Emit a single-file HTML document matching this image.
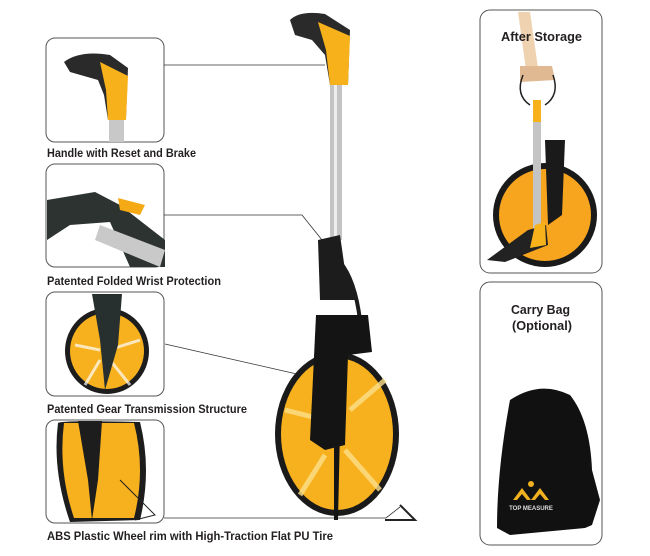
<!DOCTYPE html>
<html><head><meta charset="utf-8"><style>
html,body{margin:0;padding:0;background:#fff;width:650px;height:556px;overflow:hidden}
svg{display:block}
text{font-family:"Liberation Sans Narrow","Liberation Sans",sans-serif;font-weight:bold;fill:#231f20}
</style></head><body>
<svg width="650" height="556" viewBox="0 0 650 556">
<g fill="#fff" stroke="#555" stroke-width="1">
<rect x="46" y="38" width="118" height="104" rx="9"/>
<rect x="46" y="164" width="118" height="103" rx="9"/>
<rect x="46" y="292" width="118" height="104" rx="9"/>
<rect x="46" y="420" width="118" height="103" rx="9"/>
<rect x="480" y="10" width="122" height="263" rx="10"/>
<rect x="480" y="282" width="122" height="263" rx="10"/>
</g>
<g stroke="#333" stroke-width="0.8" fill="none">
<path d="M164 65 H325"/>
<path d="M164 215 H302 L322 240"/>
<path d="M165 344 L310 377"/>
<path d="M164 518 H386 L400 507"/>
</g>
<!-- box1 handle -->
<rect x="109" y="115" width="15" height="27" fill="#c8c8c8"/>
<path d="M64 62 Q80 50 110 55 L128 68 L126 118 L108 120 L104 95 L98 80 L70 72 Z" fill="#2a2a2a"/>
<path d="M100 62 L128 76 L126 120 L108 120 L106 90 Z" fill="#f7b21b"/>
<!-- box2 -->
<path d="M47 200 L95 192 L120 205 L165 240 L165 267 L130 267 L110 222 L70 225 L47 240 Z" fill="#2c3331"/>
<path d="M100 225 L165 250 L160 267 L95 240 Z" fill="#c9c9c9"/>
<path d="M118 198 L145 205 L140 215 L120 210 Z" fill="#f5a915"/>
<!-- box3 wheel -->
<ellipse cx="107" cy="351" rx="42" ry="43" fill="#1d1d1d"/>
<ellipse cx="107" cy="351" rx="37" ry="38" fill="#f7b11e"/>
<g stroke="#fff" stroke-width="3" opacity="0.7"><path d="M75 345 L100 350 M115 348 L140 340 M110 360 L130 385 M100 360 L85 385"/></g>
<path d="M92 294 L122 294 L118 345 L105 390 L100 340 Z" fill="#28302f"/>
<!-- box4 wheel -->
<path d="M58 423 Q60 420 140 422 Q152 470 140 520 L70 522 Q52 470 58 423 Z" fill="#1d1d1d"/>
<path d="M64 423 L134 423 Q146 470 134 518 L74 518 Q58 470 64 423Z" fill="#f7b11e"/>
<path d="M78 421 L102 421 L98 480 L92 520 L88 480 Z" fill="#1d1d1d"/>
<path d="M120 480 L155 515 L135 520" stroke="#222" fill="none"/>
<!-- main wheel -->
<path d="M400 505 L415 520 L385 520" stroke="#222" stroke-width="2" fill="none"/>
<ellipse cx="337" cy="434" rx="62" ry="82" fill="#1a1a1a"/>
<ellipse cx="337" cy="434" rx="56" ry="76" fill="#f7b11e"/>
<g stroke="#fde08a" stroke-width="5" opacity="0.8"><path d="M285 410 L325 420 M350 410 L385 380 M345 450 L380 490 M325 455 L300 495"/></g>
<rect x="330" y="85" width="12" height="155" fill="#c4c4c4"/>
<rect x="334" y="85" width="3" height="155" fill="#eee"/>
<path d="M290 20 Q300 10 325 14 L350 30 L348 85 L330 85 L325 55 L312 40 L295 35 Z" fill="#2a2a2a"/>
<path d="M318 22 L350 36 L348 85 L330 85 L326 50 Z" fill="#f7b21b"/>
<path d="M318 240 L340 235 L345 270 L358 300 L320 300 Z" fill="#1c1c1c"/>
<path d="M340 262 Q355 280 360 320" stroke="#1c1c1c" stroke-width="4" fill="none"/>
<path d="M316 315 L368 315 L372 352 L348 355 L345 445 L325 450 L310 440 Z" fill="#141414"/>
<path d="M334 430 L340 430 L338 520 L334 520 Z" fill="#141414"/>
<!-- after storage -->
<path d="M518 12 L530 12 L538 68 L526 70 Z" fill="#efd2b0"/>
<path d="M520 66 L552 66 L555 80 L520 82 Z" fill="#e0b892"/>
<path d="M523 75 Q515 95 530 105 M553 75 Q560 95 545 105" stroke="#222" stroke-width="1.5" fill="none"/>
<ellipse cx="545" cy="215" rx="52" ry="52" fill="#1a1a1a"/>
<ellipse cx="545" cy="215" rx="46" ry="46" fill="#f7a41e"/>
<rect x="533" y="105" width="8" height="130" fill="#c4c4c4"/>
<rect x="533" y="100" width="8" height="22" fill="#f7b21b"/>
<path d="M545 140 L565 140 L562 215 L548 225 Z" fill="#1a1a1a"/>
<path d="M528 230 L546 225 L548 245 L505 262 L487 260 Z" fill="#222"/>
<path d="M535 225 L545 222 L546 245 L530 248 Z" fill="#f7b21b"/>
<!-- bag -->
<path d="M510 400 Q540 380 570 395 Q590 420 592 470 L600 500 L592 525 L585 528 L510 535 L497 528 Q497 470 510 400 Z" fill="#111"/>
<g fill="#f0b020"><path d="M513 500 L522 488 L531 500 L527 500 L522 494 L517 500 Z"/><path d="M531 500 L540 488 L549 500 L545 500 L540 494 L535 500 Z"/><circle cx="531" cy="484" r="3"/></g>
<text x="531" y="510" text-anchor="middle" font-size="6" font-weight="normal" style="fill:#ddd">TOP MEASURE</text>
<!-- labels -->
<g font-size="12">
<text x="47" y="157" textLength="149" lengthAdjust="spacingAndGlyphs">Handle with Reset and Brake</text>
<text x="47" y="285" textLength="174" lengthAdjust="spacingAndGlyphs">Patented Folded Wrist Protection</text>
<text x="47" y="413" textLength="200" lengthAdjust="spacingAndGlyphs">Patented Gear  Transmission Structure</text>
<text x="47" y="540" textLength="286" lengthAdjust="spacingAndGlyphs">ABS Plastic Wheel rim with  High-Traction Flat PU Tire</text>
<text x="501" y="41" font-size="13" textLength="81" lengthAdjust="spacingAndGlyphs">After Storage</text>
<text x="511" y="314" font-size="13" textLength="59" lengthAdjust="spacingAndGlyphs">Carry Bag</text>
<text x="512" y="330" font-size="13" textLength="60" lengthAdjust="spacingAndGlyphs">(Optional)</text>
</g>
</svg>
</body></html>
